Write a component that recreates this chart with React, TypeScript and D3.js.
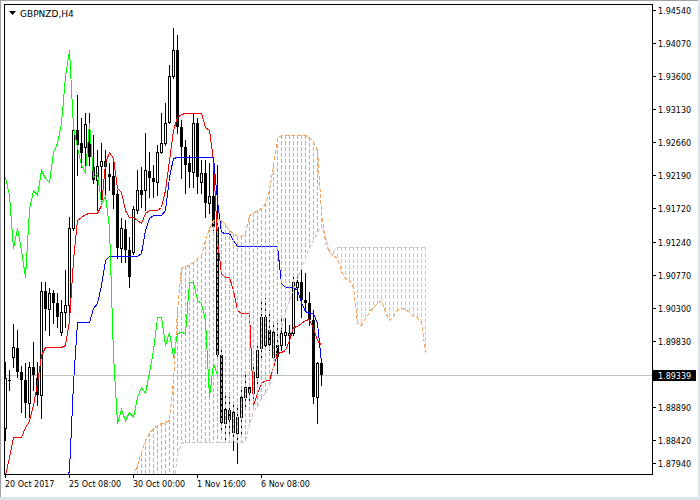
import * as d3 from 'd3';

// Axis labels
const timeLabels = ['20 Oct 2017', '25 Oct 08:00', '30 Oct 00:00', '1 Nov 16:00', '6 Nov 08:00'];
const timeTickBars = [0, 16, 32, 48, 64];
const priceLabels = [1.9454, 1.9407, 1.936, 1.9313, 1.9266, 1.9219, 1.9172, 1.9124, 1.9077, 1.903, 1.8983, 1.8889, 1.8842, 1.8794];
const lastPrice = 1.89339;
const symbol = 'GBPNZD,H4';

// H4 candles
const open = [1.88592, 1.89275, 1.89602, 1.8973, 1.89388, 1.89275, 1.88947, 1.8946, 1.89303, 1.89061,
  1.90541, 1.90285, 1.90513, 1.9037, 1.89958, 1.90242, 1.90342, 1.91438, 1.92832, 1.92647,
  1.9259, 1.92661, 1.92306, 1.92121, 1.9232, 1.92391, 1.92206, 1.92178, 1.91921, 1.91153,
  1.91423, 1.91124, 1.91096, 1.91694, 1.91978, 1.91978, 1.92249, 1.92149, 1.92092, 1.92519,
  1.92647, 1.92946, 1.93601, 1.9397, 1.92875, 1.9259, 1.92363, 1.92234, 1.92932, 1.92092,
  1.9222, 1.91793, 1.91893, 1.91452, 1.8963, 1.88663, 1.88848, 1.88535, 1.8852, 1.88748,
  1.89033, 1.89175, 1.8909, 1.89317, 1.8973, 1.89773, 1.89986, 1.89602, 1.89773, 1.89773,
  1.89915, 1.89915, 1.89943, 1.90598, 1.90669, 1.90413, 1.9037, 1.90128, 1.89033, 1.89517];
const high = [1.89531, 1.89417, 1.90071, 1.89986, 1.89474, 1.89517, 1.89531, 1.89815, 1.89531, 1.90669,
  1.90669, 1.90584, 1.90555, 1.90513, 1.90413, 1.9084, 1.91594, 1.92861, 1.9333, 1.93003,
  1.93074, 1.93074, 1.92761, 1.92547, 1.92647, 1.92547, 1.92363, 1.92377, 1.91978, 1.9158,
  1.91551, 1.91309, 1.91751, 1.92263, 1.92306, 1.92789, 1.92519, 1.92334, 1.92619, 1.93074,
  1.93216, 1.93757, 1.94284, 1.94184, 1.92974, 1.9269, 1.92476, 1.93074, 1.93003, 1.92405,
  1.92405, 1.92363, 1.92363, 1.92334, 1.89701, 1.89061, 1.89033, 1.88962, 1.88876, 1.89175,
  1.89346, 1.89232, 1.8946, 1.89773, 1.90413, 1.90441, 1.90271, 1.901, 1.90086, 1.90157,
  1.90157, 1.90057, 1.90769, 1.90797, 1.90868, 1.90797, 1.90527, 1.90271, 1.89531, 1.89531];
const low = [1.88421, 1.89132, 1.8946, 1.89317, 1.88819, 1.88748, 1.88748, 1.89132, 1.88919, 1.88734,
  1.89986, 1.89915, 1.90086, 1.90029, 1.89915, 1.90029, 1.90228, 1.91409, 1.92192, 1.92306,
  1.92263, 1.92334, 1.92078, 1.91694, 1.91836, 1.91836, 1.91978, 1.91722, 1.91011, 1.90954,
  1.90954, 1.90598, 1.91068, 1.91651, 1.91736, 1.91694, 1.91879, 1.91879, 1.91907, 1.92505,
  1.92619, 1.92932, 1.93572, 1.92789, 1.92149, 1.91936, 1.92021, 1.92021, 1.91936, 1.91936,
  1.91594, 1.91651, 1.91409, 1.89602, 1.8852, 1.88421, 1.88463, 1.88278, 1.88094, 1.8852,
  1.8889, 1.88947, 1.88962, 1.89175, 1.89602, 1.89701, 1.89701, 1.89559, 1.89374, 1.89701,
  1.89773, 1.89659, 1.89915, 1.90413, 1.90171, 1.90271, 1.90057, 1.88947, 1.88663, 1.89203];
const close = [1.89303, 1.8926, 1.89744, 1.89388, 1.89275, 1.88947, 1.8946, 1.89346, 1.89061, 1.90541,
  1.90285, 1.90513, 1.9037, 1.90171, 1.90242, 1.90342, 1.91438, 1.92832, 1.92619, 1.92505,
  1.92917, 1.92448, 1.92121, 1.9232, 1.92391, 1.92306, 1.92163, 1.91907, 1.91153, 1.91438,
  1.91124, 1.9074, 1.91708, 1.91978, 1.91907, 1.92263, 1.92149, 1.92092, 1.92519, 1.92647,
  1.92932, 1.93601, 1.9397, 1.92875, 1.9259, 1.92334, 1.92234, 1.92932, 1.92163, 1.9222,
  1.91793, 1.91893, 1.91452, 1.8963, 1.88663, 1.88862, 1.88705, 1.88819, 1.88748, 1.89033,
  1.89175, 1.8909, 1.89388, 1.89701, 1.90171, 1.90171, 1.89773, 1.89958, 1.89602, 1.89943,
  1.89958, 1.89943, 1.90669, 1.90669, 1.90413, 1.9037, 1.90128, 1.89033, 1.89517, 1.89339];

// Ichimoku lines
const tenkan = [1.87923, 1.88178, 1.88463, 1.88463, 1.88463, 1.88606, 1.88691, 1.88919, 1.89232, 1.8963,
  1.89744, 1.89744, 1.89744, 1.89744, 1.89744, 1.89773, 1.90128, 1.90982, 1.91551, 1.91594,
  1.91637, 1.91651, 1.91651, 1.91651, 1.91765, 1.92363, 1.92519, 1.92434, 1.92007, 1.9195,
  1.91694, 1.91594, 1.91594, 1.91551, 1.91509, 1.91651, 1.91694, 1.91694, 1.91694, 1.91736,
  1.91978, 1.92405, 1.92832, 1.93017, 1.9306, 1.93074, 1.93074, 1.93074, 1.93074, 1.93074,
  1.92875, 1.92832, 1.92405, 1.91267, 1.90797, 1.9074, 1.9074, 1.90555, 1.90271, 1.90228,
  1.90228, 1.90228, 1.88919, 1.8909, 1.89232, 1.89275, 1.89275, 1.8946, 1.89659, 1.89673,
  1.89701, 1.89844, 1.90029, 1.90043, 1.90086, 1.90128, 1.90143, 1.90015, 1.89844, 1.89773];
const kijun = [null, null, null, null, null, null, null, null, null, null,
  null, null, null, null, null, 1.87766, 1.87994, 1.89232, 1.901, 1.901,
  1.901, 1.901, 1.90299, 1.9037, 1.90626, 1.90982, 1.91039, 1.91039, 1.91039, 1.91039,
  1.91039, 1.91039, 1.91039, 1.91039, 1.91082, 1.91409, 1.9158, 1.91623, 1.91623, 1.91623,
  1.91694, 1.92163, 1.92434, 1.92448, 1.92448, 1.92448, 1.92448, 1.92448, 1.92448, 1.92448,
  1.92448, 1.92448, 1.92448, 1.91836, 1.91381, 1.91366, 1.91366, 1.91267, 1.91181, 1.91181,
  1.91181, 1.91181, 1.91181, 1.91181, 1.91181, 1.91181, 1.91181, 1.91181, 1.91181, 1.90655,
  1.90598, 1.90598, 1.90598, 1.90555, 1.90385, 1.90256, 1.90228, 1.90228, 1.90086, 1.89531];
// cloud, bars 32..105
const spanFrom = 32;
const spanA = [1.87909, 1.88065, 1.8825, 1.88421, 1.8852, 1.88592, 1.88634, 1.88663, 1.88677, 1.88705,
  1.89275, 1.90271, 1.90868, 1.90897, 1.90911, 1.90954, 1.91011, 1.91053, 1.91267, 1.91438,
  1.91551, 1.91566, 1.91551, 1.91494, 1.91409, 1.91366, 1.91324, 1.91324, 1.91366, 1.91623,
  1.91651, 1.91694, 1.91722, 1.91793, 1.91978, 1.92334, 1.92718, 1.92761, 1.92761, 1.92761,
  1.92761, 1.92761, 1.92761, 1.92761, 1.92732, 1.92676, 1.92547, 1.91665, 1.91238, 1.91096,
  1.91039, 1.91025, 1.90826, 1.90726, 1.90698, 1.90598, 1.90086, 1.90057, 1.90157, 1.90242,
  1.90313, 1.9037, 1.90413, 1.90242, 1.90128, 1.90185, 1.90271, 1.90299, 1.90285, 1.90242,
  1.90185, 1.90171, 1.901, 1.89673];
const spanB = [1.8775, 1.8775, 1.8775, 1.8775, 1.8775, 1.8775, 1.8775, 1.8775, 1.8775, 1.8775,
  1.8775, 1.88207, 1.88378, 1.88392, 1.88392, 1.88392, 1.88392, 1.88392, 1.88392, 1.88392,
  1.88392, 1.88392, 1.88392, 1.88392, 1.88392, 1.88392, 1.88392, 1.88392, 1.88421, 1.88634,
  1.88848, 1.8889, 1.89018, 1.89104, 1.89203, 1.8946, 1.89773, 1.90029, 1.90242, 1.90413,
  1.90555, 1.90726, 1.90868, 1.91025, 1.91167, 1.91267, 1.91381, 1.91466, 1.91324, 1.91124,
  1.9111, 1.91167, 1.91167, 1.91167, 1.91167, 1.91167, 1.91167, 1.91167, 1.91167, 1.91167,
  1.91167, 1.91167, 1.91167, 1.91167, 1.91167, 1.91167, 1.91167, 1.91167, 1.91167, 1.91167,
  1.91167, 1.91167, 1.91167, 1.91167];
// chikou = close drawn 26 bars back
const chikouShift = 26;

const FONT = '"DejaVu Sans", Verdana, sans-serif';
const SANDY = '#F4A460';
const THISTLE = '#D8BFD8';
const DASH = 4;
const GAP = 2;

export default function App() {
  const left = 4, top = 4, right = 652, bottom = 474;

  const x = d3.scaleLinear().domain([0, 1]).range([5.5, 9.5]);
  const y = d3.scaleLinear().domain([1.8794, 1.9454]).range([473.8, 10]);
  const py = (v: number) => Math.round(y(v)) + 0.5;

  const line = d3.line<[number, number | null]>()
    .defined((d) => d[1] != null)
    .x((d) => x(d[0]))
    .y((d) => py(d[1] as number));

  const tenkanPath = line(tenkan.map((v, i) => [i, v]));
  const kijunPath = line(kijun.map((v, i) => [i, v]));
  const chikouPath = line(close.slice(chikouShift).map((v, i) => [i, v]));
  const spanAPath = line(spanA.map((v, k) => [k + spanFrom, v]));
  const spanBPath = line(spanB.map((v, k) => [k + spanFrom, v]));

  const lastY = py(lastPrice);

  // kumo sticks split into whole-pixel dashes
  const dashes: { x: number; y: number; h: number; c: string }[] = [];
  spanA.forEach((a, k) => {
    const b = spanB[k];
    const cx = x(k + spanFrom) - 0.5;
    const y0 = Math.round(y(Math.max(a, b)));
    const y1 = Math.min(Math.round(y(Math.min(a, b))), bottom);
    const c = a >= b ? SANDY : THISTLE;
    for (const s of d3.range(y0, y1 + 1, DASH + GAP)) {
      dashes.push({ x: cx, y: s, h: Math.min(DASH, y1 + 1 - s), c });
    }
  });

  return (
    <svg width={700} height={500} style={{ position: 'absolute', left: 0, top: 0, background: '#fff' }}
      fontFamily={FONT}>
      <defs>
        <clipPath id="plot">
          <rect x={left + 1} y={top + 1} width={right - left - 1} height={bottom - top - 1} />
        </clipPath>
      </defs>
      <rect x={0} y={0} width={700} height={500} fill="#fff" />
      {/* window frame */}
      <rect x={0} y={0} width={1} height={500} fill="#a0a0a0" />
      <rect x={0} y={0} width={700} height={1} fill="#a0a0a0" />
      <rect x={698} y={0} width={2} height={500} fill="#dbe3ee" />
      <rect x={0} y={497} width={700} height={3} fill="#dbe3ee" />

      <g clipPath="url(#plot)">
        <line x1={left} x2={right} y1={lastY} y2={lastY} stroke="#c0c0c0" shapeRendering="crispEdges" />

        {/* candles */}
        <g shapeRendering="crispEdges">
          {open.map((o, i) => {
            const c = close[i];
            const cx = x(i);
            const yT = Math.round(y(Math.max(o, c)));
            const yB = Math.round(y(Math.min(o, c)));
            const bull = c >= o;
            return (
              <g key={i}>
                <line x1={cx} x2={cx} y1={Math.round(y(high[i]))} y2={Math.round(y(low[i])) + 1} stroke="#000" />
                {bull ? (
                  <rect x={cx - 1} y={yT + 0.5} width={2} height={Math.max(yB - yT, 0)} fill="#fff" stroke="#000" />
                ) : (
                  <rect x={cx - 1.5} y={yT} width={3} height={Math.max(yB - yT, 1)} fill="#000" />
                )}
              </g>
            );
          })}
        </g>

        <g fill="none" shapeRendering="crispEdges">
          <path d={tenkanPath ?? ''} stroke="#ff0000" />
          <path d={kijunPath ?? ''} stroke="#0000ff" />
        </g>

        {/* kumo hatch */}
        <g shapeRendering="crispEdges">
          {dashes.map((d, k) => (
            <rect key={k} x={d.x} y={d.y} width={1} height={d.h} fill={d.c} />
          ))}
        </g>

        <g fill="none" shapeRendering="crispEdges">
          <path d={chikouPath ?? ''} stroke="#00ff00" />
          <path d={spanAPath ?? ''} stroke={SANDY} strokeDasharray="4,2" />
          <path d={spanBPath ?? ''} stroke={THISTLE} strokeDasharray="4,2" />
        </g>
      </g>

      {/* plot frame */}
      <rect x={left + 0.5} y={top + 0.5} width={right - left} height={bottom - top} fill="none" stroke="#000"
        shapeRendering="crispEdges" />

      {/* price axis */}
      <g fontSize={8} fill="#000">
        {priceLabels.map((p) => {
          const ty = Math.min(py(p), 463.5);
          return (
            <g key={p}>
              <line x1={right} x2={right + 4} y1={ty} y2={ty} stroke="#000" shapeRendering="crispEdges" />
              <text x={658} y={ty + 3}>{p.toFixed(5)}</text>
            </g>
          );
        })}
      </g>
      <rect x={653} y={lastY - 5.5} width={43} height={11} fill="#000" />
      <text x={658} y={lastY + 3} fontSize={8} fill="#fff">{lastPrice.toFixed(5)}</text>

      {/* time axis */}
      <g fontSize={8} fill="#000">
        {timeTickBars.map((b, k) => (
          <g key={b}>
            <line x1={x(b)} x2={x(b)} y1={bottom} y2={bottom + 4} stroke="#000" shapeRendering="crispEdges" />
            <text x={x(b) - 0.5} y={487}>{timeLabels[k]}</text>
          </g>
        ))}
      </g>

      {/* symbol */}
      <path d="M9,11 L16,11 L12.5,15 Z" fill="#000" />
      <text x={20} y={16.5} fontSize={9} fill="#000">{symbol}</text>
    </svg>
  );
}
